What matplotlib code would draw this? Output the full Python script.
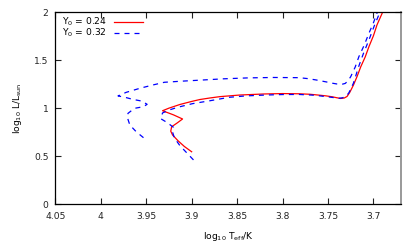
import matplotlib
matplotlib.use('Agg')
import matplotlib.pyplot as plt

# Y0 = 0.24 track
red_logt = [3.900, 3.908, 3.915, 3.921, 3.923, 3.922, 3.916, 3.910, 3.920, 3.932,
            3.925, 3.913, 3.900, 3.891, 3.880, 3.869, 3.847, 3.820, 3.800, 3.782,
            3.770, 3.761, 3.752, 3.745, 3.740, 3.736, 3.732, 3.729, 3.726, 3.722,
            3.718, 3.714, 3.709, 3.705, 3.700, 3.696, 3.689]
red_logl = [0.545, 0.600, 0.660, 0.720, 0.760, 0.806, 0.845, 0.887, 0.930, 0.973,
            1.000, 1.038, 1.070, 1.090, 1.106, 1.120, 1.137, 1.148, 1.152, 1.150,
            1.145, 1.137, 1.128, 1.118, 1.108, 1.101, 1.106, 1.122, 1.165, 1.240,
            1.330, 1.430, 1.535, 1.640, 1.755, 1.870, 2.020]

# Y0 = 0.32 tracks
blue_a_logt = [3.898, 3.905, 3.913, 3.919, 3.921, 3.920, 3.927, 3.934, 3.932, 3.925,
               3.915, 3.899, 3.880, 3.859, 3.840, 3.818, 3.800, 3.782, 3.765, 3.750,
               3.742, 3.738, 3.734, 3.730, 3.727, 3.722, 3.716, 3.711, 3.705, 3.699,
               3.692]
blue_a_logl = [0.460, 0.530, 0.610, 0.690, 0.750, 0.800, 0.850, 0.890, 0.950, 0.980,
               1.010, 1.047, 1.077, 1.113, 1.128, 1.137, 1.142, 1.143, 1.135, 1.118,
               1.108, 1.103, 1.108, 1.125, 1.160, 1.260, 1.440, 1.570, 1.710, 1.860,
               2.020]

blue_b_logt = [3.953, 3.961, 3.968, 3.971, 3.970, 3.963, 3.953, 3.949, 3.955, 3.965,
               3.972, 3.981, 3.972, 3.957, 3.943, 3.930, 3.910, 3.891, 3.865, 3.837,
               3.810, 3.782, 3.772, 3.763, 3.752, 3.745, 3.740, 3.735, 3.731, 3.728,
               3.725, 3.720, 3.716, 3.710, 3.705, 3.700, 3.695]
blue_b_logl = [0.692, 0.754, 0.824, 0.910, 0.946, 0.998, 1.015, 1.040, 1.074, 1.092,
               1.110, 1.128, 1.165, 1.207, 1.241, 1.270, 1.282, 1.292, 1.306, 1.316,
               1.320, 1.318, 1.308, 1.294, 1.274, 1.260, 1.252, 1.248, 1.258, 1.285,
               1.328, 1.430, 1.537, 1.660, 1.780, 1.890, 2.020]

xticks = [4.05, 4.0, 3.95, 3.9, 3.85, 3.8, 3.75, 3.7]
xticklabels = ['4.05', '4', '3.95', '3.9', '3.85', '3.8', '3.75', '3.7']
yticks = [0, 0.5, 1, 1.5, 2]
yticklabels = ['0', '0.5', '1', '1.5', '2']

fs = 6.6
fig = plt.figure(figsize=(4.15, 2.49), dpi=100)
ax = fig.add_axes([0.1333, 0.1807, 0.8322, 0.7699])

ax.plot(red_logt, red_logl, color='#ff0000', lw=0.9, label='Y$_0$ = 0.24')
ax.plot(blue_a_logt, blue_a_logl, color='#0000ff', lw=0.9, dashes=(4, 4),
        label='Y$_0$ = 0.32')
ax.plot(blue_b_logt, blue_b_logl, color='#0000ff', lw=0.9, dashes=(4, 4))

ax.set_xlim(4.05, 3.67)
ax.set_ylim(0, 2)
ax.set_xticks(xticks)
ax.set_xticklabels(xticklabels)
ax.set_yticks(yticks)
ax.set_yticklabels(yticklabels)
ax.tick_params(direction='in', length=4, width=0.8, labelsize=fs, pad=5,
               top=True, right=True, colors='#222222')
ax.tick_params(axis='x', pad=6)

for s in ['left', 'bottom', 'top']:
    ax.spines[s].set_linewidth(0.9)
ax.spines['right'].set_color('#999999')
ax.spines['right'].set_linewidth(1.4)

ax.set_xlabel('log$_{10}$ T$_{\\rm eff}$/K', fontsize=fs, labelpad=6)
ax.set_ylabel('log$_{10}$ L/L$_{\\rm sun}$', fontsize=fs, labelpad=7)

ax.legend(loc='upper left', bbox_to_anchor=(0.0, 1.015), frameon=False,
          fontsize=fs, markerfirst=False, handlelength=3.2,
          handletextpad=0.8, labelspacing=-0.15, borderpad=0.2)

fig.savefig('out.png', dpi=100)
